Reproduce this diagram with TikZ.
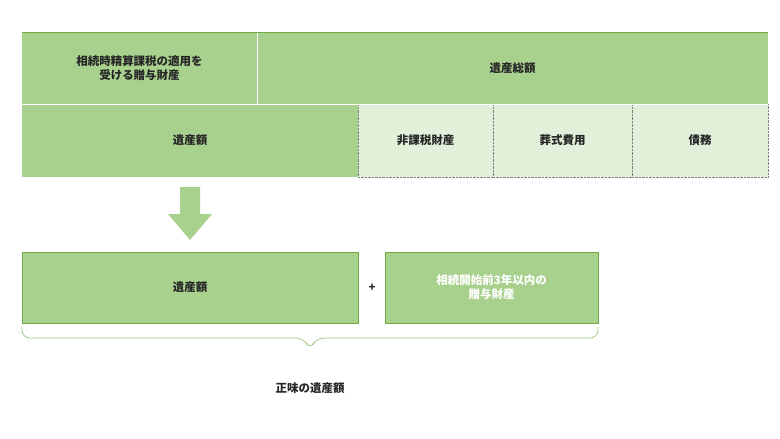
\documentclass[tikz,border=0pt]{standalone}
\usepackage{fontspec}
\setmainfont{Noto Sans CJK JP}
\usetikzlibrary{decorations.pathreplacing}
\definecolor{dg}{HTML}{A9D18E}
\definecolor{lg}{HTML}{E2F0D9}
\definecolor{bd}{HTML}{70AD47}
\tikzset{
 cell/.style={draw=white,line width=0.8pt,fill=dg},
 lcell/.style={draw=gray,densely dotted,fill=lg},
 lbl/.style={font=\fontsize{11.5pt}{14pt}\selectfont\bfseries,align=center,text=black!85},
 gbox/.style={draw=bd,line width=0.8pt,fill=dg}
}
\begin{document}
\begin{tikzpicture}[x=1pt,y=-1pt]
\useasboundingbox (0,0) rectangle (780,439);
\fill[dg] (22,32) rectangle (768,177);
\draw[lcell] (358,104) rectangle (493,177);
\draw[lcell] (493,104) rectangle (632,177);
\draw[lcell] (632,104) rectangle (768,177);
\draw[white,line width=0.8pt] (22,104) -- (768,104) (257,32) -- (257,104);
\draw[bd,line width=0.8pt] (22,32) -- (768,32);
\node[lbl] (a) at (139.5,68) {相続時精算課税の適用を\\受ける贈与財産};
\node[lbl] (b) at (512.5,68) {遺産総額};
\node[lbl] (c) at (190,140.5) {遺産額};
\node[lbl] (d) at (425.5,140.5) {非課税財産};
\node[lbl] (e) at (562.5,140.5) {葬式費用};
\node[lbl] (f) at (700,140.5) {債務};
\fill[dg] (180,187) -- (200,187) -- (200,214) -- (212,214) -- (190,240) -- (168,214) -- (180,214) -- cycle;
\draw[gbox] (22,252) rectangle (358,323);
\node[lbl] (g) at (190,287.5) {遺産額};
\node[lbl] (p) at (372,287.5) {+};
\draw[gbox] (385,252) rectangle (598,323);
\node[lbl,text=white] (h) at (491.5,287.5) {相続開始前3年以内の\\贈与財産};
\draw[bd!70,line width=0.7pt,rounded corners=8pt] (22,327) -- (22,338) -- (304,338) -- (310,350) -- (316,338) -- (598,338) -- (598,327);
\node[lbl] (n) at (310,388) {正味の遺産額};
\end{tikzpicture}
\end{document}
